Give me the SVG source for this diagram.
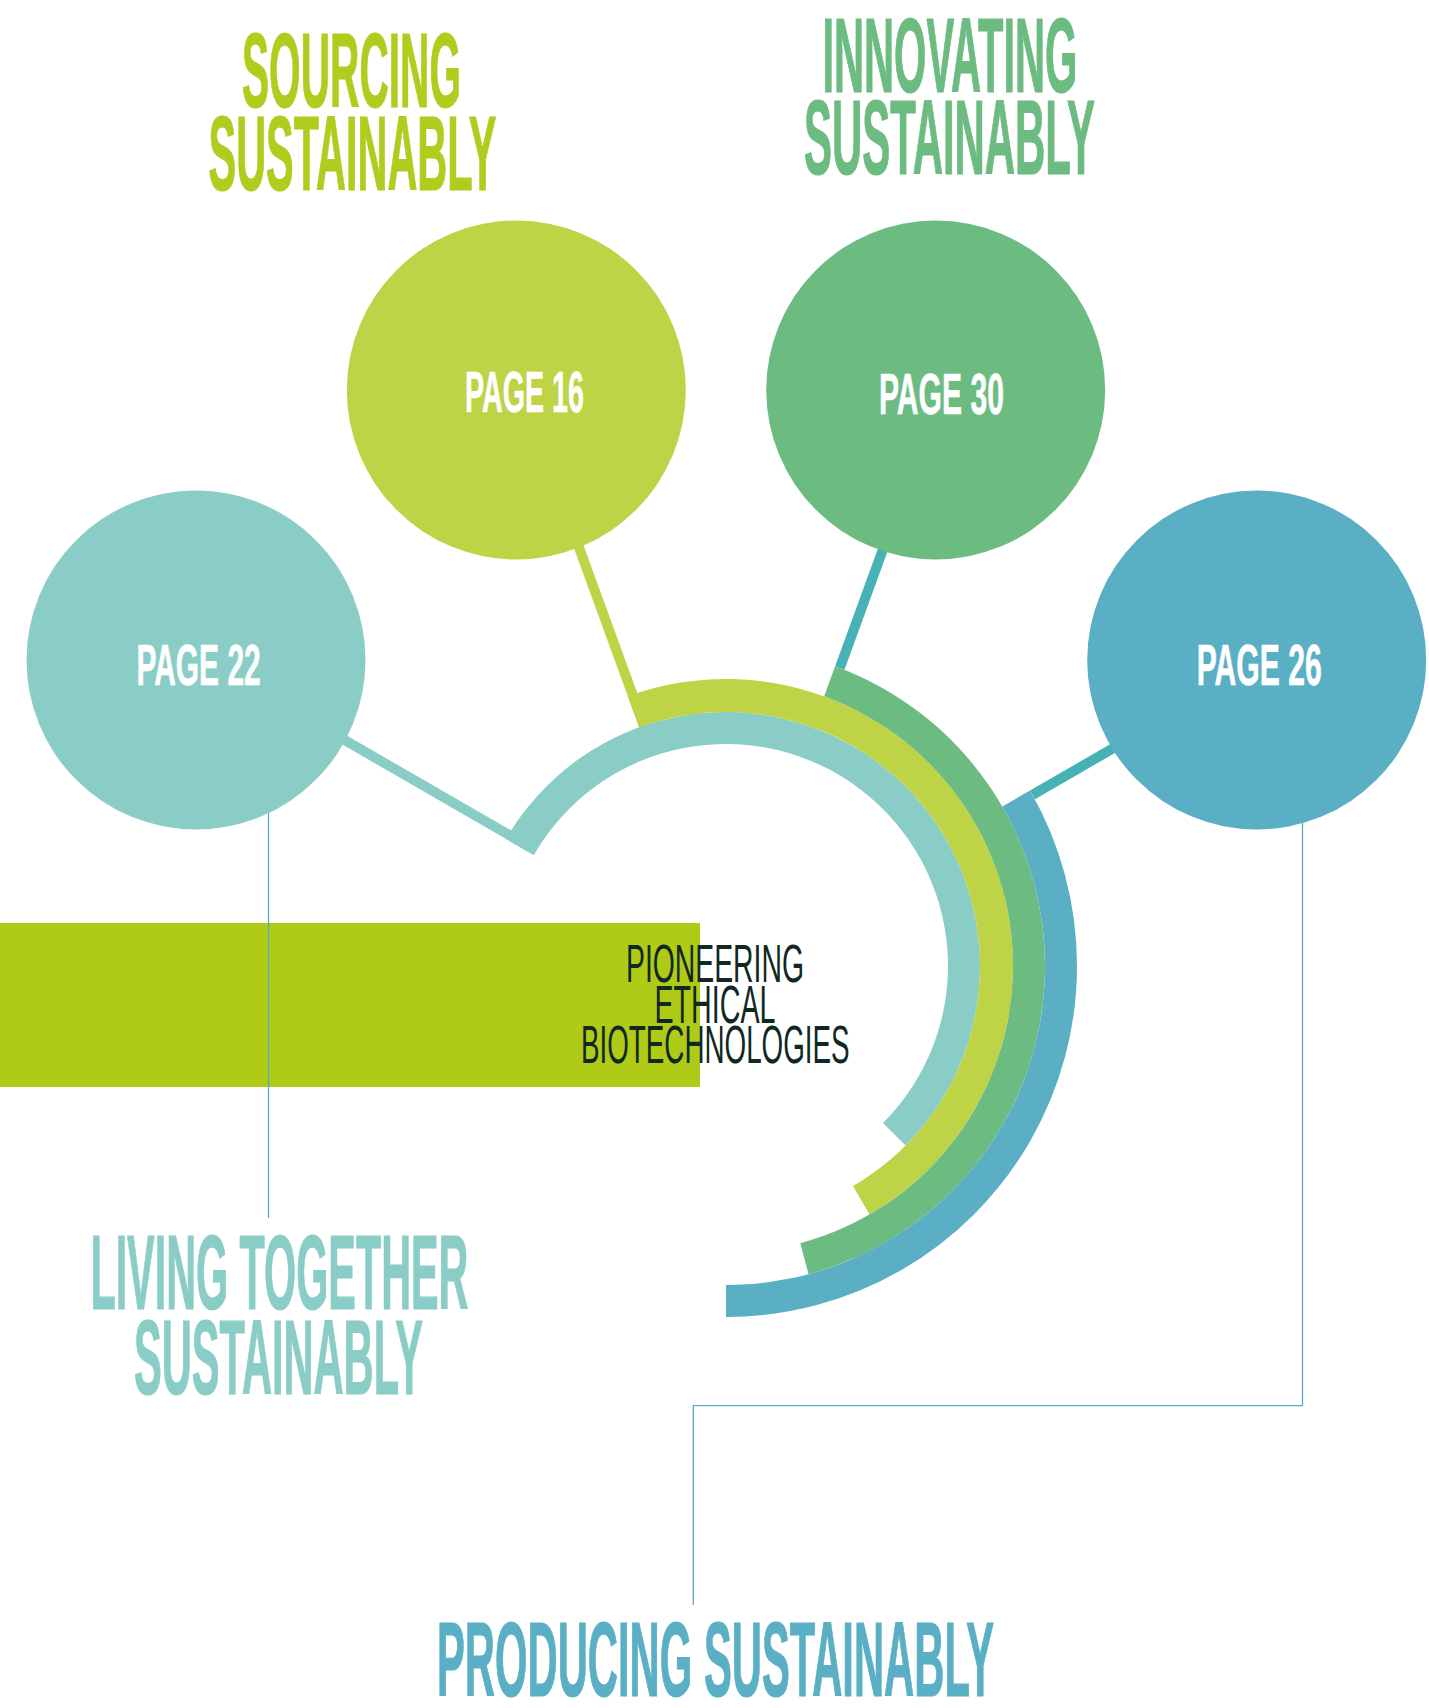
<svg xmlns="http://www.w3.org/2000/svg" width="1429" height="1708" viewBox="0 0 1429 1708">
  <style>
    .title { font-family: "Liberation Sans", Arial, sans-serif; font-weight: bold; font-size: 105px; stroke-width: 1.2px; }
    .page { font-family: "Liberation Sans", Arial, sans-serif; font-weight: bold; font-size: 57px; fill: #ffffff; stroke: #ffffff; stroke-width: 0.6px; }
    .core { font-family: "Liberation Sans", Arial, sans-serif; font-size: 54px; fill: #10281f; }
    .thin { fill: none; stroke: #5aabbf; stroke-width: 1.3; }
    .c-teal { fill: #8acdc6; }
    .c-lime { fill: #bed345; }
    .c-green { fill: #6cbb81; }
    .c-blue { fill: #5aafc5; }
    .c-link { fill: #46b2b6; }
  </style>

  <!-- backdrop band behind the core statement -->
  <rect x="0" y="923" width="700" height="164" fill="#afca17"/>

  <!-- connectors: radial spokes and thin leader lines -->
  <g id="connectors">
    <polygon class="c-teal" points="533.74,855 206.38,666 211.38,657.34 538.74,846.34"/>
    <polygon class="c-lime" points="639.13,727.32 520.79,402.18 530.19,398.76 648.53,723.9"/>
    <polygon class="c-link" points="835.1,666.24 931.21,402.18 940.61,405.6 844.5,669.66"/>
    <polygon class="c-link" points="1029.98,790.5 1245.62,666 1250.62,674.66 1034.98,799.16"/>
    <polyline class="thin" points="268.5,800 268.5,1218"/>
    <polyline class="thin" points="1302.5,800 1302.5,1405.7 693.3,1405.7 693.3,1605"/>
  </g>

  <!-- concentric rings around the centre -->
  <g id="rings">
    <path id="ring-living" class="c-teal" d="M 506.03 839 A 254 254 0 1 1 905.61 1145.61 L 882.98 1122.98 A 222 222 0 1 0 533.74 855 Z"/>
    <path id="ring-sourcing" class="c-lime" d="M 627.84 696.31 A 287 287 0 0 1 869.5 1214.55 L 853 1185.97 A 254 254 0 0 0 639.13 727.32 Z"/>
    <path id="ring-innovating" class="c-green" d="M 835.1 666.24 A 319 319 0 0 1 808.56 1274.13 L 800.28 1243.22 A 287 287 0 0 0 824.16 696.31 Z"/>
    <path id="ring-producing" class="c-blue" d="M 1029.98 790.5 A 351 351 0 0 1 726 1317 L 726 1285 A 319 319 0 0 0 1002.26 806.5 Z"/>
  </g>

  <!-- centre statement -->
  <g id="core">
    <text class="core" x="626" y="981.7" textLength="178" lengthAdjust="spacingAndGlyphs">PIONEERING</text>
    <text class="core" x="654.5" y="1022.5" textLength="121" lengthAdjust="spacingAndGlyphs">ETHICAL</text>
    <text class="core" x="581" y="1063.3" textLength="268.6" lengthAdjust="spacingAndGlyphs">BIOTECHNOLOGIES</text>
  </g>

  <!-- page bubbles -->
  <g id="node-page22">
    <circle class="c-teal" cx="196" cy="660" r="169.5"/>
    <text class="page" x="136.4" y="685" textLength="124.3" lengthAdjust="spacingAndGlyphs">PAGE 22</text>
  </g>
  <g id="node-page16">
    <circle class="c-lime" cx="516.3" cy="390" r="169.5"/>
    <text class="page" x="465" y="412" textLength="119" lengthAdjust="spacingAndGlyphs">PAGE 16</text>
  </g>
  <g id="node-page30">
    <circle class="c-green" cx="935.7" cy="390" r="169.5"/>
    <text class="page" x="879" y="414" textLength="125" lengthAdjust="spacingAndGlyphs">PAGE 30</text>
  </g>
  <g id="node-page26">
    <circle class="c-blue" cx="1256.7" cy="660" r="169.5"/>
    <text class="page" x="1196.7" y="685" textLength="125" lengthAdjust="spacingAndGlyphs">PAGE 26</text>
  </g>

  <!-- theme headings -->
  <g id="heading-sourcing" fill="#b1cc1e" stroke="#b1cc1e">
    <text class="title" x="242" y="106.5" textLength="219" lengthAdjust="spacingAndGlyphs">SOURCING</text>
    <text class="title" x="208.5" y="190" textLength="288" lengthAdjust="spacingAndGlyphs">SUSTAINABLY</text>
  </g>
  <g id="heading-innovating" fill="#6cbb81" stroke="#6cbb81">
    <text class="title" x="822.4" y="91.7" textLength="255" lengthAdjust="spacingAndGlyphs">INNOVATING</text>
    <text class="title" x="804" y="174.3" textLength="291" lengthAdjust="spacingAndGlyphs">SUSTAINABLY</text>
  </g>
  <g id="heading-living" fill="#8acdc6" stroke="#8acdc6">
    <text class="title" x="90.4" y="1309" textLength="378" lengthAdjust="spacingAndGlyphs">LIVING TOGETHER</text>
    <text class="title" x="134" y="1394" textLength="289" lengthAdjust="spacingAndGlyphs">SUSTAINABLY</text>
  </g>
  <g id="heading-producing" fill="#5aafc5" stroke="#5aafc5">
    <text class="title" x="437" y="1695.7" textLength="557" lengthAdjust="spacingAndGlyphs">PRODUCING SUSTAINABLY</text>
  </g>
</svg>
